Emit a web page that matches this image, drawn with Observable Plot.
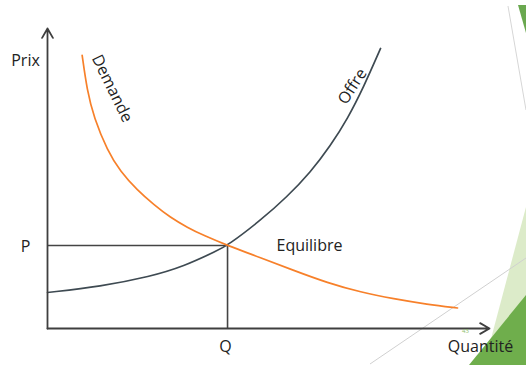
<!DOCTYPE html>
<html>
<head>
<meta charset="utf-8">
<script src="https://cdn.jsdelivr.net/npm/d3@7"></script>
<script src="https://cdn.jsdelivr.net/npm/@observablehq/plot@0.6"></script>
<style>
  html, body { margin: 0; padding: 0; background: #fff; }
  #wrap { position: relative; width: 526px; height: 365px; overflow: hidden; }
  #deco { position: absolute; left: 0; top: 0; }
  #chart { position: absolute; left: 0; top: 0; }
</style>
</head>
<body>
<div id="wrap">
  <svg id="deco" width="526" height="365">
    <line x1="508" y1="6" x2="526" y2="110" stroke="#d6d6d6" stroke-width="1"/>
    <polygon points="518,5 526,5 526,33" fill="#6aa84f"/>
    <polygon points="526,207 484,365 526,365" fill="#dcebc9"/>
    <line x1="370" y1="364" x2="526" y2="258" stroke="#d0d0d0" stroke-width="1"/>
    <polygon points="526,295 469,365 526,365" fill="#6fae4c"/>
  </svg>
  <div id="chart"></div>
</div>
<script>
// Axis extents (data units)
const xMax = 9.82;
const yMax = 10.84;
// Equilibrium
const Q = 4.0;
const P = 3.0;
// Supply curve (Offre)
const offreQ = [0, 1.18, 2.29, 3.02, 3.78, 4.0, 4.73, 5.33, 5.84, 6.29, 6.67, 7.02, 7.4];
const offreP = [1.3, 1.52, 1.88, 2.24, 2.82, 3.0, 3.9, 4.77, 5.64, 6.61, 7.59, 8.71, 10.12];
// Demand curve (Demande)
const demandeQ = [0.77, 0.88, 1.03, 1.33, 1.62, 2.0, 2.36, 2.73, 3.11, 3.47, 4.0, 4.73, 5.47, 6.22, 6.96, 7.69, 8.44, 9.11];
const demandeP = [9.87, 8.6, 7.63, 6.43, 5.67, 4.99, 4.48, 4.01, 3.65, 3.36, 3.0, 2.56, 2.1, 1.65, 1.31, 1.07, 0.87, 0.74];

const offre = offreQ.map((q, i) => ({q, p: offreP[i]}));
const demande = demandeQ.map((q, i) => ({q, p: demandeP[i]}));

const font = "'Open Sans', sans-serif";
const ink = "#222";
const axisColor = "#3f3f3f";

const chart = Plot.plot({
  width: 526,
  height: 365,
  marginLeft: 47,
  marginRight: 37,
  marginTop: 28,
  marginBottom: 37,
  x: {domain: [0, xMax], axis: null},
  y: {domain: [0, yMax], axis: null},
  style: {background: "transparent", fontFamily: font},
  marks: [
    // guide lines
    Plot.ruleY([P], {x1: 0, x2: Q, stroke: "#444", strokeWidth: 1.6}),
    Plot.ruleX([Q], {y1: 0, y2: P, stroke: "#444", strokeWidth: 1.6}),
    // curves
    Plot.line(offre, {x: "q", y: "p", stroke: "#3e4a52", strokeWidth: 1.7, curve: "basis"}),
    Plot.line(demande, {x: "q", y: "p", stroke: "#f7802a", strokeWidth: 1.7, curve: "basis"}),
    // axes with arrows
    Plot.arrow([{x1: 0, y1: 0, x2: xMax, y2: 0}], {x1: "x1", y1: "y1", x2: "x2", y2: "y2", stroke: axisColor, strokeWidth: 1.8, headLength: 9}),
    Plot.arrow([{x1: 0, y1: 0, x2: 0, y2: yMax}], {x1: "x1", y1: "y1", x2: "x2", y2: "y2", stroke: axisColor, strokeWidth: 1.8, headLength: 9}),
    // labels
    Plot.text(["Prix"], {x: 0, y: yMax, dx: -22, dy: 32, fill: ink, fontSize: 16, textAnchor: "middle"}),
    Plot.text(["P"], {x: 0, y: P, dx: -22, dy: 1, fill: ink, fontSize: 16, textAnchor: "middle"}),
    Plot.text(["Q"], {x: Q, y: 0, dx: -2, dy: 18, fill: ink, fontSize: 16, textAnchor: "middle"}),
    Plot.text(["Quantité"], {x: xMax, y: 0, dx: -9, dy: 18, fill: ink, fontSize: 16, textAnchor: "middle"}),
    Plot.text(["Equilibre"], {x: Q, y: P, dx: 49, dy: 0, fill: ink, fontSize: 16, textAnchor: "start"}),
    Plot.text(["Demande"], {x: demandeQ[1], y: demandeP[1], dx: 25, dy: -2, rotate: 64, fill: ink, fontSize: 16, textAnchor: "middle"}),
    Plot.text(["Offre"], {x: offreQ[11], y: offreP[11], dx: -11, dy: -1, rotate: -57, fill: ink, fontSize: 16, textAnchor: "middle"}),
    Plot.text(["43"], {x: xMax, y: 0, dx: -24, dy: 3, fill: "#8cc06a", fontSize: 6, textAnchor: "middle"})
  ]
});
document.getElementById("chart").appendChild(chart);
</script>
</body>
</html>
